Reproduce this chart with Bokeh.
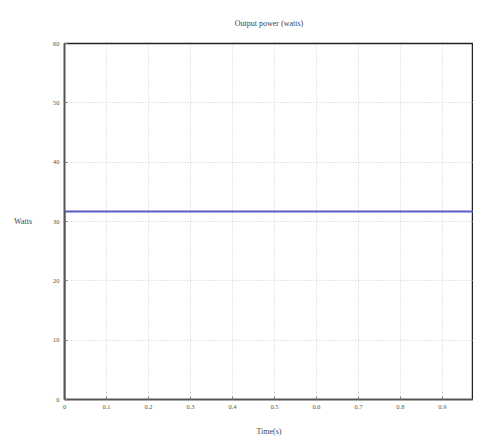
from bokeh.plotting import figure
from bokeh.models import FixedTicker, Range1d
from bokeh.embed import file_html
from bokeh.resources import INLINE

time_s = [0.0, 0.0, 1.0]
power_w = [0.0, 31.7, 31.7]
x_ticks = [0, 0.1, 0.2, 0.3, 0.4, 0.5, 0.6, 0.7, 0.8, 0.9]
y_ticks = [0, 10, 20, 30, 40, 50, 60]

p = figure(width=473, height=438, output_backend="svg", toolbar_location=None,
           x_range=Range1d(0, 0.974), y_range=Range1d(0, 60),
           title="Output power (watts)",
           min_border_left=64, min_border_right=0, min_border_top=43, min_border_bottom=37)
p.title.align = "center"
p.title.text_font = "Liberation Serif"
p.title.text_font_size = "8px"
p.title.text_font_style = "normal"
p.title.text_color = "#444444"
p.title.standoff = 31

p.line(time_s, power_w, line_color="#5a5ac8", line_width=2)

p.xaxis.ticker = FixedTicker(ticks=x_ticks)
p.yaxis.ticker = FixedTicker(ticks=y_ticks)
p.xaxis.major_label_overrides = {t: ("0" if t == 0 else f"{t:.1f}") for t in x_ticks}
for ax in (p.xaxis, p.yaxis):
    ax.major_label_text_font = "Liberation Serif"
    ax.major_label_text_font_size = "6.5px"
    ax.major_label_text_color = "#555555"
    ax.axis_label_text_font = "Liberation Serif"
    ax.axis_label_text_font_size = "8px"
    ax.axis_label_text_font_style = "normal"
    ax.axis_label_text_color = "#444444"
    ax.major_tick_in = 3
    ax.major_tick_out = 0
    ax.minor_tick_line_color = None
    ax.axis_line_color = "#555555"
    ax.axis_line_width = 1.5
    ax.major_tick_line_color = "#777777"
p.xaxis.axis_label = "Time(s)"
p.yaxis.axis_label = "Watts"
p.yaxis.axis_label_orientation = "horizontal"
p.xaxis.axis_label_standoff = 15
p.yaxis.axis_label_standoff = 18

p.xgrid.grid_line_color = "#cccccc"
p.ygrid.grid_line_color = "#cccccc"
p.xgrid.grid_line_dash = "1 2"
p.ygrid.grid_line_dash = "1 2"
p.outline_line_color = "#222222"
p.outline_line_width = 1.5

open("out.html", "w").write(file_html(p, INLINE))
